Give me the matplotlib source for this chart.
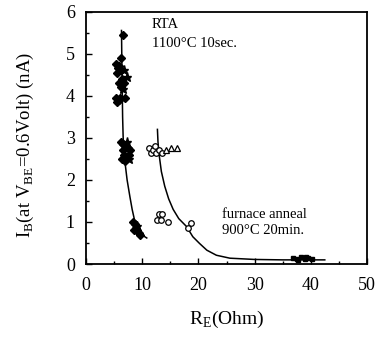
import matplotlib.pyplot as plt
from matplotlib.ticker import MultipleLocator

plt.rcParams['font.family'] = ['Liberation Serif', 'DejaVu Serif']
plt.rcParams['mathtext.fontset'] = 'custom'
plt.rcParams['mathtext.rm'] = 'Liberation Serif'

# RTA data (filled diamonds / stars)
rta_x = [6.5, 6.3, 5.4, 5.6, 5.9, 6.2, 5.5, 6.4, 6.7, 6.2, 5.9, 5.3, 5.5, 5.8, 6.0, 6.9,
         6.2, 6.6, 7.0, 7.4, 6.5, 7.8, 6.8, 7.2, 6.4, 7.6, 7.0,
         8.4, 8.7, 8.9, 9.1, 9.4, 8.6, 9.6]
rta_y = [5.45, 4.9, 4.75, 4.65, 4.7, 4.6, 4.55, 4.4, 4.3, 4.2, 4.3, 3.95, 3.85, 3.9, 3.95, 3.95,
         2.9, 2.85, 2.8, 2.75, 2.7, 2.7, 2.6, 2.55, 2.5, 2.6, 2.45,
         1.0, 0.95, 0.85, 0.8, 0.75, 0.8, 0.7]
rta_star_x = [7.2, 6.8, 6.6, 7.3, 7.6, 9.0]
rta_star_y = [4.45, 4.6, 4.15, 2.9, 2.5, 0.9]

# furnace anneal data
fur_circ_x = [11.2, 11.6, 12.0, 12.5, 13.0, 13.5, 12.3, 12.6, 13.0, 13.6, 13.3, 14.6, 18.7, 18.2]
fur_circ_y = [2.75, 2.65, 2.7, 2.65, 2.7, 2.65, 2.8, 1.05, 1.18, 1.2, 1.05, 1.0, 0.98, 0.85]
fur_tri_x = [14.3, 15.2, 16.1]
fur_tri_y = [2.72, 2.75, 2.75]
fur_sq_x = [36.8, 37.5, 38.2, 38.9, 39.5, 40.2, 37.8, 39.2]
fur_sq_y = [0.15, 0.13, 0.16, 0.12, 0.14, 0.11, 0.1, 0.17]

# guide curves
rta_curve_x = [6.3, 6.35, 6.4, 6.45, 6.5, 6.6, 6.85, 7.3, 7.8, 8.2, 8.7, 9.4, 10.1, 10.8]
rta_curve_y = [5.55, 5.0, 4.5, 4.0, 3.5, 3.0, 2.5, 2.0, 1.6, 1.3, 1.0, 0.8, 0.68, 0.62]
fur_curve_x = [12.7, 12.8, 13.0, 13.4, 14.0, 14.7, 15.5, 16.5, 17.9, 19.0, 20.2, 21.5, 23.2,
               25.6, 30.0, 35.0, 42.5]
fur_curve_y = [3.2, 2.9, 2.6, 2.2, 1.85, 1.55, 1.3, 1.08, 0.89, 0.65, 0.49, 0.33, 0.21,
               0.14, 0.11, 0.1, 0.1]

fig = plt.figure(figsize=(3.81, 3.39), dpi=100)
ax = fig.add_axes([0.226, 0.221, 0.737, 0.745])

ax.plot(rta_curve_x, rta_curve_y, 'k-', lw=1.1)
ax.plot(fur_curve_x, fur_curve_y, 'k-', lw=1.1)
ax.plot(rta_x, rta_y, 'kD', ms=3.8)
ax.plot(rta_star_x, rta_star_y, 'k*', ms=6.5)
ax.plot(fur_circ_x, fur_circ_y, 'ko', ms=4, mfc='white', mew=0.9)
ax.plot(fur_tri_x, fur_tri_y, 'k^', ms=4, mfc='white', mew=0.9)
ax.plot(fur_sq_x, fur_sq_y, 'ks', ms=3.5)

ax.text(11.7, 5.7, 'RTA', fontsize=10.5, va='center')
ax.text(11.7, 5.24, '1100°C 10sec.', fontsize=10.5, va='center')
ax.text(24.2, 1.17, 'furnace anneal', fontsize=10.5, va='center')
ax.text(24.2, 0.8, '900°C 20min.', fontsize=10.5, va='center')

ax.set_xlim(0, 50)
ax.set_ylim(0, 6)
ax.xaxis.set_major_locator(MultipleLocator(10))
ax.xaxis.set_minor_locator(MultipleLocator(5))
ax.yaxis.set_major_locator(MultipleLocator(1))
ax.yaxis.set_minor_locator(MultipleLocator(0.5))
ax.tick_params(which='both', direction='in', labelsize=13)
ax.tick_params(axis='x', which='major', pad=9)
ax.tick_params(axis='y', which='major', pad=8)
ax.tick_params(which='major', length=4, width=1)
ax.tick_params(which='minor', length=2.5, width=1)
for s in ax.spines.values():
    s.set_linewidth(1.3)

ax.set_xlabel(r'R$_\mathregular{E}$(Ohm)', fontsize=14)
ax.set_ylabel(r'I$_\mathregular{B}$(at V$_\mathregular{BE}$=0.6Volt) (nA)', fontsize=13.5)
ax.xaxis.set_label_coords(0.5, -0.176)
ax.yaxis.set_label_coords(-0.18, 0.47)

fig.savefig('out.png', dpi=100)
